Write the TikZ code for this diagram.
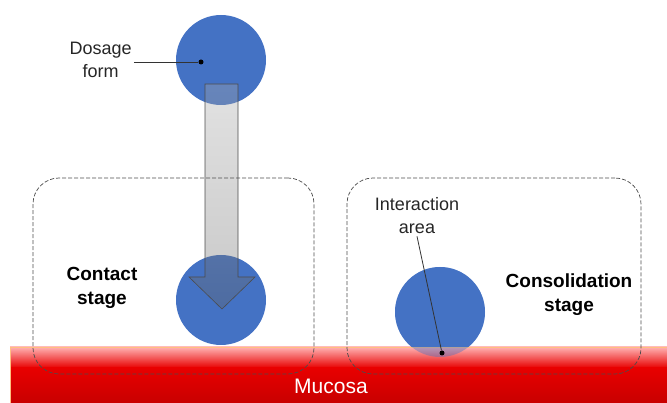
\documentclass[tikz,border=0pt]{standalone}
\usepackage{fontspec}
\setmainfont{Liberation Sans}
\usetikzlibrary{positioning,calc}
\definecolor{formblue}{HTML}{4472C4}
\definecolor{mucred}{HTML}{E80000}
\definecolor{mucdark}{HTML}{C80000}
\tikzset{
  formcirc/.style={circle,minimum size=90pt,inner sep=0pt,fill=formblue,draw=none},
  stagebox/.style={rectangle,draw=black!70,dash pattern=on 4pt off 2pt,rounded corners=26pt,
    line width=0.7pt,inner sep=0pt},
  lbl/.style={font=\fontsize{18}{23}\selectfont,align=center,text=black!85,inner sep=2pt},
  stagelbl/.style={font=\fontsize{19}{24}\selectfont\bfseries,align=center,text=black},
  pin/.style={line width=0.8pt,black!80},
  pindot/.style={circle,fill=black,inner sep=0pt,minimum size=5pt},
}
\begin{document}
\begin{tikzpicture}[x=1pt,y=-1pt]
  \useasboundingbox (0,0) rectangle (667,403);
  % mucosa layer
  \shade[top color=red!30!white,bottom color=mucred] (10,347) rectangle (667,368);
  \shade[top color=mucred,bottom color=mucdark] (10,368) rectangle (667,403);
  \draw[orange!50,line width=0.6pt] (10,403) -- (10,347) -- (667,347);
  \node[font=\fontsize{21}{25}\selectfont,text=white] (mucosa) at (331,386) {Mucosa};
  % dosage forms
  \node[formcirc] (dose) at (221,60) {};
  \node[formcirc] (contact) at (221,300) {};
  \node[formcirc,fill opacity=0.4] (consol) at (440,312) {};
  \begin{scope}
    \clip (0,0) rectangle (667,347);
    \fill[formblue] (consol.center) circle[radius=45pt];
  \end{scope}
  % movement arrow
  \path[draw=black!70,line width=0.6pt,top color=black!33,bottom color=black!62,fill opacity=0.35]
    (205,84) -- (238,84) -- (238,277) -- (255,277) -- (222,309) -- (189,277) -- (205,277) -- cycle;
  % stages
  \node[stagebox,minimum width=281pt,minimum height=196pt] (contactbox) at (173.5,276) {};
  \node[stagebox,minimum width=294pt,minimum height=196pt] (consolbox) at (494,276) {};
  \node[stagelbl] (contactlbl) at (102,288) {Contact\\stage};
  \node[stagelbl] (consollbl) at (569,295) {Consolidation\\stage};
  % labels
  \node[lbl,left=42pt of dose] (doselbl) {Dosage\\form};
  \node[lbl] (interlbl) at (417,216) {Interaction\\area};
  \node[pindot] (dosedot) at (201,62) {};
  \node[pindot] (interdot) at (442,353) {};
  \draw[pin] (doselbl.east |- dosedot) -- (dosedot);
  \draw[pin] (interlbl.south) -- (interdot);
\end{tikzpicture}
\end{document}
